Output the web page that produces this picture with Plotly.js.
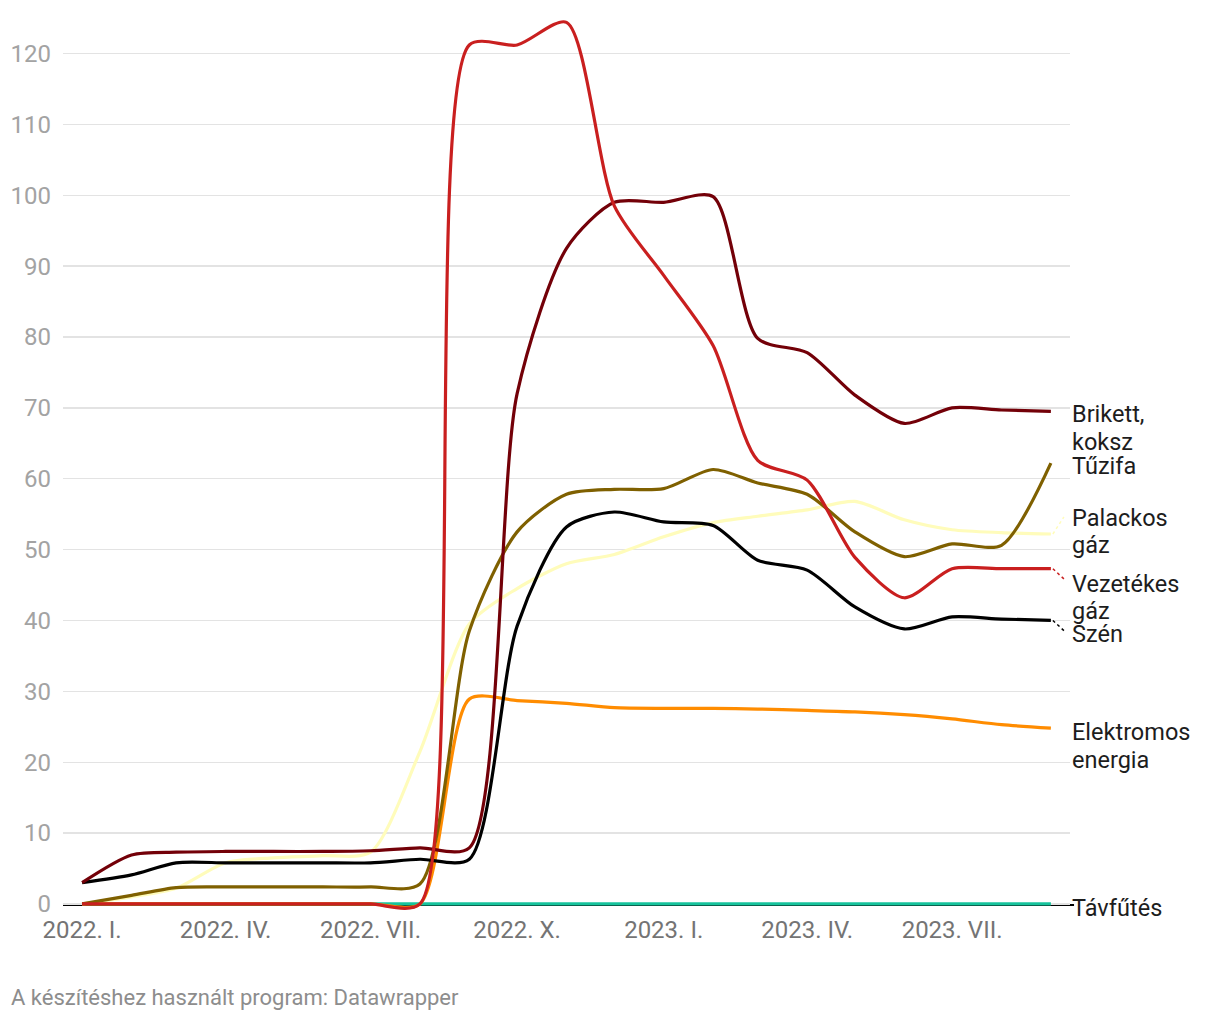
<!DOCTYPE html>
<html>
<head>
<meta charset="utf-8">
<script src="https://cdn.plot.ly/plotly-3.0.1.min.js"></script>
<style>
  html, body { margin: 0; padding: 0; background: #fff; }
  #chart { width: 1220px; height: 1020px; }
</style>
</head>
<body>
<div id="chart"></div>
<script>
// ---- data ----
const months = [
  '2022-01-01','2022-02-01','2022-03-01','2022-04-01','2022-05-01','2022-06-01',
  '2022-07-01','2022-08-01','2022-09-01','2022-10-01','2022-11-01','2022-12-01',
  '2023-01-01','2023-02-01','2023-03-01','2023-04-01','2023-05-01','2023-06-01',
  '2023-07-01','2023-08-01','2023-09-01'
];
const vezetekesGaz = [0,0,0,0,0,0,0,0,121.2,121.2,124.4,98.5,88.7,78.8,62.6,59.8,48.9,43.2,47.3,47.3,47.3];
const brikettKoksz = [3.0,6.9,7.3,7.4,7.4,7.4,7.5,7.9,7.9,72.0,92.5,99.0,99.0,99.8,79.8,77.8,71.8,67.8,70.0,69.7,69.5];
const tuzifa = [0,1.2,2.3,2.4,2.4,2.4,2.4,2.8,38.5,52.5,57.8,58.5,58.6,61.3,59.4,57.8,52.5,49.0,50.8,50.6,62.2];
const palackosGaz = [0,1.0,2.2,5.8,6.5,6.8,7.3,21.5,39.5,44.5,48.0,49.3,51.8,53.8,54.7,55.6,56.8,54.2,52.8,52.4,52.2];
const szen = [3.0,4.1,5.8,5.8,5.8,5.8,5.8,6.3,6.3,39.2,53.2,55.3,53.9,53.4,48.5,47.1,41.9,38.8,40.5,40.2,40.0];
const elektromos = [0,0,0,0,0,0,0,0,28.9,28.7,28.3,27.7,27.6,27.6,27.5,27.3,27.1,26.7,26.1,25.3,24.8];
const tavfutes = [0,0,0,0,0,0,0,0,0,0,0,0,0,0,0,0,0,0,0,0,0];

const tickVals = ['2022-01-01','2022-04-01','2022-07-01','2022-10-01','2023-01-01','2023-04-01','2023-07-01'];
const tickText = ['2022. I.','2022. IV.','2022. VII.','2022. X.','2023. I.','2023. IV.','2023. VII.'];

// series: name, values, colour, label lines, vertical shift of first line (px)
const series = [
  {name:'Távfűtés', y:tavfutes, color:'#17c39c', label:['Távfűtés'], shift:-4},
  {name:'Palackos gáz', y:palackosGaz, color:'#fffcbb', label:['Palackos','gáz'], shift:16},
  {name:'Elektromos energia', y:elektromos, color:'#ff8c00', label:['Elektromos','energia'], shift:-4},
  {name:'Tűzifa', y:tuzifa, color:'#7f6000', label:['Tűzifa'], shift:-3},
  {name:'Szén', y:szen, color:'#000000', label:['Szén'], shift:-14},
  {name:'Brikett, koksz', y:brikettKoksz, color:'#730008', label:['Brikett,','koksz'], shift:-3},
  {name:'Vezetékes gáz', y:vezetekesGaz, color:'#c91f1f', label:['Vezetékes','gáz'], shift:-15}
];

const traces = series.map(s => ({
  type:'scatter', mode:'lines', x:months, y:s.y, name:s.name,
  line:{color:s.color, width:3.2, shape:'spline', smoothing:0.75},
  hoverinfo:'skip'
}));

const last = months[months.length-1];
const lineGap = 27.5;
const annotations = [];
series.forEach(s => {
  s.label.forEach((t, k) => {
    annotations.push({
      xref:'x', yref:'y', x:last, y:s.y[s.y.length-1],
      xanchor:'left', yanchor:'middle', xshift:19, yshift:s.shift - k*lineGap,
      text:t, showarrow:false, align:'left',
      font:{family:'Roboto, sans-serif', size:23.5, color:'#1d1d1d'}
    });
  });
});
annotations.push({
  xref:'paper', yref:'paper', x:-0.0536, y:-0.0956, xanchor:'left', yanchor:'middle',
  text:'A készítéshez használt program: Datawrapper', showarrow:false,
  font:{family:'Roboto, sans-serif', size:22, color:'#8d8d8d'}
});

// small connector lines from line ends to shifted labels
function connector(s, dx0, dy0, dx1, dy1, dash) {
  return {type:'line', xref:'x', yref:'y', xsizemode:'pixel', ysizemode:'pixel',
    xanchor:last, yanchor:s.y[s.y.length-1], x0:dx0, y0:dy0, x1:dx1, y1:dy1,
    line:{color:s.color, width:1.5, dash:dash}, layer:'above'};
}
const byName = n => series.find(s => s.name === n);
const shapes = [
  {type:'line', xref:'paper', yref:'y', x0:0, x1:1.004, ysizemode:'pixel', yanchor:0, y0:-1, y1:-1,
   line:{color:'#000', width:2}, layer:'below'},
  connector(byName('Palackos gáz'), 2, 0, 13, 17, 'dot'),
  connector(byName('Vezetékes gáz'), 2, 0, 15, -12, 'dot'),
  connector(byName('Szén'), 2, 0, 15, -12, 'dot')
];

const layout = {
  width:1220, height:1020,
  margin:{l:63, r:150, t:11, b:109},
  paper_bgcolor:'#fff', plot_bgcolor:'#fff',
  showlegend:false,
  font:{family:'Roboto, sans-serif'},
  xaxis:{
    type:'date', range:['2021-12-20','2023-09-13'],
    tickvals:tickVals, ticktext:tickText,
    showgrid:false, zeroline:false, showline:false, ticks:'',
    tickfont:{family:'Roboto, sans-serif', size:24, color:'#747474'},
    ticklabelstandoff:2
  },
  yaxis:{
    range:[-1,126], dtick:10, tick0:0,
    showgrid:true, gridcolor:'#e3e3e3', gridwidth:1.3,
    zeroline:false, showline:false, ticks:'',
    tickfont:{family:'Roboto, sans-serif', size:24, color:'#a3a3a3'},
    ticklabelstandoff:11
  },
  annotations:annotations,
  shapes:shapes
};

Plotly.newPlot('chart', traces, layout, {staticPlot:true, displayModeBar:false});
</script>
</body>
</html>
